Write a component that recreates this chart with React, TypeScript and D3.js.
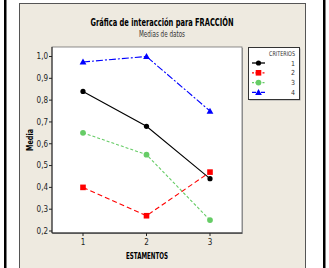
import * as d3 from "d3";

// data
const estamentos = [1, 2, 3];
const criterios = ["1", "2", "3", "4"];
const criterio1 = [0.84, 0.68, 0.44];
const criterio2 = [0.4, 0.27, 0.47];
const criterio3 = [0.65, 0.55, 0.25];
const criterio4 = [0.975, 1.0, 0.75];
const yTicks = [0.2, 0.3, 0.4, 0.5, 0.6, 0.7, 0.8, 0.9, 1.0];

const W = 329;
const H = 268;
const FRAME = { left: 52, right: 242, top: 47, bottom: 233 };
const FONT = "'Liberation Sans Narrow', 'DejaVu Sans Condensed', 'Arial Narrow', sans-serif";

const STYLES = [
  { color: "#000000", dash: "none", marker: "circle" },
  { color: "#ff0000", dash: "5,3", marker: "square" },
  { color: "#66cc66", dash: "3,2", marker: "diamond" },
  { color: "#0000ff", dash: "7,2,2,2", marker: "triangle" },
];

const Marker = ({ x, y, type, color }) => {
  if (type === "circle") return <circle cx={x} cy={y} r={2.6} fill={color} />;
  if (type === "square")
    return <rect x={x - 2.8} y={y - 2.8} width={5.6} height={5.6} fill={color} />;
  if (type === "diamond")
    return <circle cx={x} cy={y} r={2.9} fill={color} />;
  return (
    <path
      d={`M${x},${y - 3.4}L${x + 3.4},${y + 2.6}L${x - 3.4},${y + 2.6}Z`}
      fill={color}
    />
  );
};

export default function App() {
  const series = [criterio1, criterio2, criterio3, criterio4];

  const xScale = d3.scalePoint<number>().domain(estamentos).range([83, 210]);
  const yScale = d3.scaleLinear().domain([0.2, 1.0]).range([231, 56.5]);
  const fmt = (v: number) => d3.format(".1f")(v).replace(".", ",");

  const line = d3
    .line<number>()
    .x((_, i) => xScale(estamentos[i]) as number)
    .y((d) => yScale(d));

  return (
    <svg
      width={W}
      height={H}
      style={{ position: "absolute", left: 0, top: 0, background: "#ffffff" }}
      fontFamily={FONT}
    >
      <rect x={0} y={0} width={W} height={H} fill="#ffffff" />
      <rect x={4} y={0} width={2.5} height={H} fill="#000000" />
      <rect x={323} y={0} width={2.5} height={H} fill="#000000" />

      {/* outer panel */}
      <rect x={19.5} y={3.5} width={286} height={H} fill="#eeeae0" stroke="#555555" strokeWidth={1} />

      <text x={162} y={26} textAnchor="middle" fontWeight="bold" fontSize={10.5} textLength={143} lengthAdjust="spacingAndGlyphs">
        Gráfica de interacción para FRACCIÓN
      </text>
      <text x={162} y={37} textAnchor="middle" fontSize={8.5} fill="#333333" textLength={46} lengthAdjust="spacingAndGlyphs">
        Medias de datos
      </text>

      {/* plot frame */}
      <rect x={FRAME.left + 1} y={FRAME.top + 1} width={FRAME.right - FRAME.left} height={FRAME.bottom - FRAME.top} fill="#a0a0a0" />
      <rect x={FRAME.left} y={FRAME.top} width={FRAME.right - FRAME.left} height={FRAME.bottom - FRAME.top} fill="#ffffff" stroke="#707070" strokeWidth={0.8} />
      <line x1={FRAME.left} x2={FRAME.left} y1={FRAME.top} y2={FRAME.bottom} stroke="#222222" strokeWidth={1} />
      <line x1={FRAME.left} x2={FRAME.right} y1={FRAME.bottom} y2={FRAME.bottom} stroke="#222222" strokeWidth={1} />

      {/* y axis */}
      {yTicks.map((t) => (
        <g key={t}>
          <line x1={FRAME.left - 3} x2={FRAME.left} y1={yScale(t)} y2={yScale(t)} stroke="#222222" />
          <text x={FRAME.left - 4} y={yScale(t) + 2.8} textAnchor="end" fontSize={8} fill="#222222">
            {fmt(t)}
          </text>
        </g>
      ))}
      <text
        transform={`translate(33,${(FRAME.top + FRAME.bottom) / 2}) rotate(-90)`}
        textAnchor="middle"
        fontWeight="bold"
        fontSize={8.5}
        textLength={22}
        lengthAdjust="spacingAndGlyphs"
      >
        Media
      </text>

      {/* x axis */}
      {estamentos.map((e) => (
        <g key={e}>
          <line x1={xScale(e)} x2={xScale(e)} y1={FRAME.bottom} y2={FRAME.bottom + 3} stroke="#222222" />
          <text x={xScale(e)} y={FRAME.bottom + 12} textAnchor="middle" fontSize={8} fill="#222222">
            {e}
          </text>
        </g>
      ))}
      <text x={147} y={259} textAnchor="middle" fontWeight="bold" fontSize={8} textLength={42} lengthAdjust="spacingAndGlyphs">
        ESTAMENTOS
      </text>

      {/* series */}
      {series.map((s, i) => (
        <g key={i}>
          <path d={line(s) ?? ""} fill="none" stroke={STYLES[i].color} strokeWidth={1.1} strokeDasharray={STYLES[i].dash} />
          {s.map((v, j) => (
            <Marker key={j} x={xScale(estamentos[j]) as number} y={yScale(v)} type={STYLES[i].marker} color={STYLES[i].color} />
          ))}
        </g>
      ))}

      {/* legend */}
      <rect x={249.5} y={48.5} width={51} height={52} fill="#a0a0a0" />
      <rect x={248.5} y={47.5} width={51} height={52} fill="#ffffff" stroke="#333333" strokeWidth={1} />
      <text x={295} y={56} textAnchor="end" fontSize={6.5} fill="#333333" textLength={26} lengthAdjust="spacingAndGlyphs">
        CRITERIOS
      </text>
      {criterios.map((c, i) => {
        const y = 63 + i * 9.8;
        return (
          <g key={c}>
            <line x1={252} x2={265} y1={y} y2={y} stroke={STYLES[i].color} strokeWidth={1.3} strokeDasharray={i === 3 ? "4,2,1,2" : STYLES[i].dash === "none" ? "none" : "2,1.5"} />
            <Marker x={258.5} y={y} type={STYLES[i].marker} color={STYLES[i].color} />
            <text x={295} y={y + 2.5} textAnchor="end" fontSize={7} fill="#333333">
              {c}
            </text>
          </g>
        );
      })}
    </svg>
  );
}
